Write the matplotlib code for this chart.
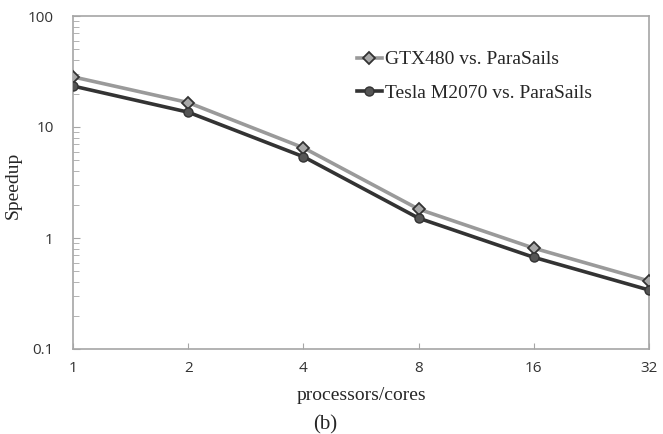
import matplotlib
matplotlib.use("Agg")
import matplotlib.pyplot as plt
from matplotlib.ticker import FixedLocator, LogLocator, NullFormatter

cores = ["1", "2", "4", "8", "16", "32"]
gtx480 = [28.3, 16.6, 6.5, 1.82, 0.81, 0.41]
tesla_m2070 = [23.4, 13.6, 5.4, 1.51, 0.67, 0.34]

serif = "Liberation Serif"
sans = "Open Sans"
spine_col = "#a6a6a6"

fig = plt.figure(figsize=(6.63, 4.34), dpi=100)
ax = fig.add_axes([73 / 663, 1 - 349 / 434, (649 - 73) / 663, (349 - 16) / 434])

x = list(range(len(cores)))
ax.plot(x, gtx480, color="#9a9a9a", lw=2.6, marker="D", ms=6,
        mfc="#a8a8a8", mec="#333333", mew=1.3, label="GTX480 vs. ParaSails", zorder=3)
ax.plot(x, tesla_m2070, color="#333333", lw=2.6, marker="o", ms=6.5,
        mfc="#555555", mec="#333333", mew=1.0, label="Tesla M2070 vs. ParaSails", zorder=4)

ax.set_yscale("log")
ax.set_ylim(0.1, 100)
ax.set_xlim(0, len(cores) - 1)
ax.set_xticks(x)
ax.set_xticklabels(cores)
ax.yaxis.set_major_locator(FixedLocator([0.1, 1, 10, 100]))
ax.set_yticklabels(["0.1", "1", "10", "100"])
ax.yaxis.set_minor_locator(LogLocator(base=10, subs=range(2, 10)))
ax.yaxis.set_minor_formatter(NullFormatter())

for s in ax.spines.values():
    s.set_color(spine_col)
    s.set_linewidth(1.2)

ax.tick_params(axis="y", which="both", direction="in", color=spine_col, pad=14,
               labelsize=11, labelcolor="#333333")
ax.tick_params(axis="y", which="major", length=5)
ax.tick_params(axis="y", which="minor", length=4)
ax.tick_params(axis="x", direction="in", length=4, color=spine_col, pad=9,
               labelsize=11, labelcolor="#333333")
for lab in ax.get_xticklabels() + ax.get_yticklabels():
    lab.set_family(sans)

ax.set_ylabel("Speedup", family=serif, fontsize=14, color="#262626")
ax.yaxis.set_label_coords(22 / 663, 0.5, transform=fig.transFigure)
ax.yaxis.label.set_y(1 - 185 / 434)
ax.set_xlabel("processors/cores", family=serif, fontsize=14, color="#262626")
ax.xaxis.set_label_coords(0.5, 1 - 395 / 434, transform=fig.transFigure)
ax.xaxis.label.set_va("center")
ax.xaxis.label.set_x(361 / 663)
fig.text(325 / 663, 1 - 425 / 434, "(b)", family=serif, fontsize=15,
         color="#262626", ha="center", va="center")

ax.legend(loc="upper left", bbox_to_anchor=(347 / 663, 1 - 41 / 434),
          bbox_transform=fig.transFigure, frameon=False,
          prop={"family": serif, "size": 14}, handlelength=1.3,
          handletextpad=0.15, labelspacing=0.8, borderpad=0, labelcolor="#262626")

fig.savefig("out.png", dpi=100)
